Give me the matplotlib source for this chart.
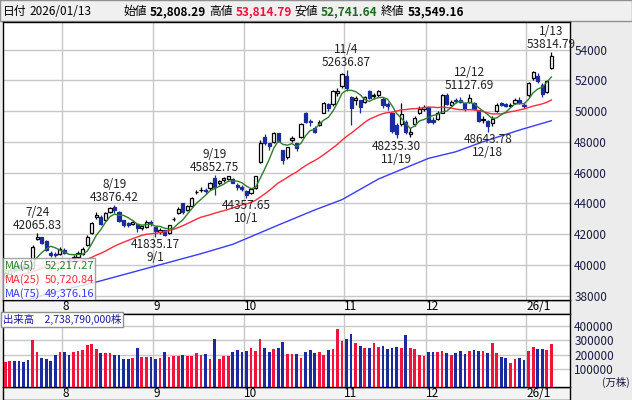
import numpy as np
import pandas as pd
import matplotlib
matplotlib.use("Agg")
import matplotlib.pyplot as plt
from matplotlib.patches import Rectangle

plt.rcParams['font.family'] = ['Noto Sans CJK JP', 'DejaVu Sans']

# daily prices, 2025/07/14 - 2026/01/13
dates = ['7/14', '7/15', '7/16', '7/17', '7/18', '7/22', '7/23', '7/24', '7/25', '7/28',
         '7/29', '7/30', '7/31', '8/1', '8/4', '8/5', '8/6', '8/7', '8/8', '8/12',
         '8/13', '8/14', '8/15', '8/18', '8/19', '8/20', '8/21', '8/22', '8/25', '8/26',
         '8/27', '8/28', '8/29', '9/1', '9/2', '9/3', '9/4', '9/5', '9/8', '9/9',
         '9/10', '9/11', '9/12', '9/16', '9/17', '9/18', '9/19', '9/22', '9/24', '9/25',
         '9/26', '9/29', '9/30', '10/1', '10/2', '10/3', '10/6', '10/7', '10/8', '10/9',
         '10/10', '10/14', '10/15', '10/16', '10/17', '10/20', '10/21', '10/22', '10/23', '10/24',
         '10/27', '10/28', '10/29', '10/30', '10/31', '11/4', '11/5', '11/6', '11/7', '11/10',
         '11/11', '11/12', '11/13', '11/14', '11/17', '11/18', '11/19', '11/20', '11/21', '11/25',
         '11/26', '11/27', '11/28', '12/1', '12/2', '12/3', '12/4', '12/5', '12/8', '12/9',
         '12/10', '12/11', '12/12', '12/15', '12/16', '12/17', '12/18', '12/19', '12/22', '12/23',
         '12/24', '12/25', '12/26', '12/29', '12/30', '1/5', '1/6', '1/7', '1/8', '1/9',
         '1/13']
opens = [39300, 39450, 39800, 39950, 39950, 39900, 39800, 41700, 41800, 41550,
         40800, 40750, 40700, 41000, 40350, 40450, 40500, 40750, 41300, 42100,
         43100, 43150, 42900, 43450, 43800, 43450, 42900, 42750, 42700, 42650,
         42400, 42450, 42800, 42450, 42150, 42250, 42100, 43000, 43400, 44000,
         43550, 43850, 44750, 44850, 44900, 45000, 45650, 45300, 45550, 45600,
         45600, 45200, 45100, 44800, 44700, 45000, 46700, 48300, 47900, 48000,
         48550, 47450, 47000, 48100, 47900, 48300, 49850, 49350, 48900, 49100,
         49900, 50450, 50450, 51150, 51600, 52300, 50900, 50700, 50700, 50600,
         51300, 50950, 51050, 50800, 50450, 49850, 49100, 49150, 49300, 48500,
         49150, 49900, 50150, 50250, 49450, 49500, 49900, 51050, 50400, 50750,
         50750, 50550, 50600, 50500, 50050, 49400, 49350, 49200, 50000, 50500,
         50450, 50300, 50550, 50750, 50400, 51050, 52150, 52300, 51700, 51250,
         52808.29]
highs = [39600, 39800, 39850, 40050, 40100, 39950, 41300, 42065.83, 41850, 41600,
         40900, 40850, 41150, 41100, 40450, 40650, 40900, 41200, 41950, 42800,
         43450, 43250, 43450, 43800, 43876.42, 43500, 42950, 42800, 42950, 42700,
         42600, 42900, 42900, 42500, 42400, 42300, 42600, 43150, 43750, 44050,
         43900, 44450, 44850, 45050, 45000, 45400, 45852.75, 45550, 45700, 45800,
         45650, 45300, 45200, 44900, 45000, 45800, 48150, 48500, 47950, 48650,
         48600, 47500, 47700, 48400, 47950, 49250, 49950, 49500, 49000, 49400,
         50600, 50550, 51400, 51500, 52500, 52636.87, 51000, 51000, 50750, 51000,
         51400, 51150, 51350, 50900, 50600, 49900, 49200, 50550, 49400, 48900,
         49650, 50300, 50400, 50300, 49600, 50000, 51100, 51200, 50700, 50850,
         50900, 50600, 51127.69, 50600, 50100, 49650, 49450, 49650, 50500, 50600,
         50550, 50500, 50850, 50900, 50500, 51900, 52600, 52500, 51800, 52000,
         53814.79]
lows = [39250, 39400, 39500, 39700, 39750, 39500, 39700, 41600, 41350, 40900,
        40500, 40550, 40650, 40700, 39850, 40300, 40450, 40650, 41250, 42050,
        43000, 42600, 42850, 43400, 43400, 42800, 42450, 42500, 42600, 42150,
        42300, 42400, 42550, 41835.17, 42050, 41900, 42000, 42850, 43300, 43300,
        43500, 43800, 44600, 44750, 44600, 44900, 44550, 45200, 45400, 45500,
        45300, 44900, 44800, 44357.65, 44600, 44950, 46600, 47800, 47500, 47950,
        48000, 46550, 46900, 48000, 47400, 48250, 49200, 49000, 48550, 49000,
        49850, 50000, 50350, 51000, 51500, 51300, 49100, 50400, 49900, 50500,
        50800, 50800, 50900, 50200, 50100, 48600, 48235.30, 49000, 48500, 48300,
        49050, 49800, 50000, 49250, 49150, 49400, 49850, 50400, 50300, 50500,
        50500, 50000, 50500, 50050, 49300, 49200, 48643.78, 49000, 49950, 50300,
        50250, 50250, 50450, 50450, 50200, 50900, 52000, 51800, 50900, 51150,
        52741.64]
closes = [39459, 39678, 39663, 39901, 39819, 39774, 41171, 41826, 41456, 40998,
          40674, 40654, 41069, 40799, 40290, 40549, 40794, 41059, 41820, 42718,
          43274, 42649, 43378, 43714, 43546, 42888, 42610, 42633, 42807, 42394,
          42520, 42828, 42718, 42188, 42310, 41938, 42580, 43018, 43643, 43459,
          43837, 44372, 44768, 44902, 44790, 45303, 45045, 45493, 45630, 45754,
          45354, 45043, 44932, 44550, 44936, 45769, 47944, 47950, 47734, 48580,
          48088, 46847, 47672, 48277, 47582, 49185, 49316, 49307, 48641, 49299,
          50512, 50219, 51307, 51325, 52411, 51497, 50212, 50883, 50276, 50911,
          50842, 51063, 51281, 50376, 50323, 48702, 48537, 49823, 48625, 48659,
          49559, 50167, 50253, 49303, 49303, 49864, 51028, 50491, 50581, 50655,
          50602, 50148, 50837, 50168, 49383, 49512, 49001, 49507, 50402, 50412,
          50344, 50407, 50750, 50526, 50339, 51832, 52518, 51961, 51117, 51939,
          53549.16]
# volume, 万株
volumes = [150000, 157000, 157000, 157000, 150000, 164000, 300000, 221000, 178000, 171000,
           157000, 200000, 217000, 221000, 200000, 217000, 228000, 231000, 271000, 278000,
           243000, 209000, 214000, 209000, 200000, 195000, 171000, 171000, 178000, 250000,
           186000, 186000, 186000, 171000, 178000, 221000, 186000, 193000, 193000, 200000,
           193000, 193000, 214000, 200000, 207000, 171000, 307000, 171000, 193000, 193000,
           221000, 236000, 221000, 228000, 250000, 228000, 307000, 250000, 221000, 243000,
           250000, 286000, 207000, 207000, 207000, 178000, 221000, 236000, 210000, 219000,
           198000, 231000, 238000, 381000, 298000, 310000, 348000, 281000, 260000, 245000,
           245000, 283000, 255000, 260000, 238000, 245000, 252000, 245000, 338000, 245000,
           238000, 195000, 188000, 219000, 219000, 219000, 226000, 210000, 195000, 210000,
           226000, 202000, 226000, 233000, 226000, 226000, 210000, 283000, 210000, 181000,
           174000, 138000, 167000, 174000, 160000, 226000, 255000, 238000, 238000, 233000,
           273879]
# closes of the 24 sessions before 7/14 (for the moving averages)
hist_closes = [38211, 38421, 38173, 37834, 38311, 38536, 38885, 38488, 38403, 38354,
               38790, 38942, 39584, 40150, 40487, 39986, 39762, 39785, 39810, 39587,
               39688, 39821, 39646, 39570]
# MA(75) at some sessions
ma75_idx = [0, 10, 20, 30, 43, 50, 60, 68, 74, 82, 93, 99, 105, 113, 120]
ma75_val = [37300, 38200, 38900, 39700, 40740, 41350, 42600, 43580, 44250, 45590,
            46930, 47360, 48010, 48770, 49376.16]

month_labels = ['8', '9', '10', '11', '12', '26/1']
marks = [(7, 'H'), (24, 'H'), (33, 'L'), (46, 'H'), (53, 'L'),
         (75, 'H'), (86, 'L'), (102, 'H'), (106, 'L'), (120, 'H')]
legend_rows = [('MA(5)', '52,217.27'), ('MA(25)', '50,720.84'), ('MA(75)', '49,376.16')]
last_date = '2026/01/13'
total_volume = '2,738,790,000株'

DOWN = '#1b2a9c'
VOL_UP = '#f0143c'
GRID = '#c8c8c8'
TICK = '#1a1a40'
PANEL = '#ececec'
MA_COLS = ['#2f7d2f', '#ff2a3c', '#3a3aff']

o = np.array(opens, float)
h = np.array(highs, float)
l = np.array(lows, float)
c = np.array(closes, float)
v = np.array(volumes, float)
x = np.arange(len(c))
up = c >= o

allc = pd.Series(hist_closes + closes, dtype=float)
ma5 = allc.rolling(5).mean().to_numpy()[len(hist_closes):]
ma25 = allc.rolling(25).mean().to_numpy()[len(hist_closes):]

W, H = 632, 400
fig = plt.figure(figsize=(W / 100, H / 100), dpi=100)

def fx(px):
    return px / W

def fy(py):
    return 1 - py / H

# backgrounds
fig.patches.append(Rectangle((0, 0), 1, 1, transform=fig.transFigure,
                             facecolor=PANEL, edgecolor='none', zorder=-5))
fig.patches.append(Rectangle((0, fy(21)), 1, 21 / H, transform=fig.transFigure,
                             facecolor='#f0f0f0', edgecolor='#909090', lw=1, zorder=-4))
for top, bot in [(300, 314), (387, 400)]:
    fig.patches.append(Rectangle((fx(3), fy(bot)), fx(567), (bot - top) / H,
                                 transform=fig.transFigure, facecolor='#f4f4f4',
                                 edgecolor='black', lw=1, zorder=-3))

ax = fig.add_axes([fx(3), fy(300), fx(567), 278 / H])
axv = fig.add_axes([fx(3), fy(387), fx(567), 73 / H])

month_starts = [i for i in range(1, len(dates))
                if dates[i].split('/')[0] != dates[i - 1].split('/')[0]]
bounds = [i - 0.5 for i in month_starts]

for a in (ax, axv):
    a.set_facecolor('white')
    a.set_xlim(-0.5, 124.1)
    a.set_xticks(bounds)
    a.set_xticklabels([])
    a.tick_params(axis='x', length=0)
    a.yaxis.tick_right()
    a.tick_params(axis='y', length=0, pad=3, labelsize=8.5, labelcolor=TICK)
    a.grid(True, color=GRID, lw=1)
    a.set_axisbelow(True)
    for s in a.spines.values():
        s.set_color('black')
        s.set_linewidth(1)

# candles
edge = np.where(up, 'black', DOWN)
face = np.where(up, 'white', DOWN)
ax.vlines(x, l, h, colors=edge, lw=0.9, zorder=2)
body = np.maximum(np.abs(c - o), 25)
ax.bar(x, body, bottom=np.minimum(o, c), width=0.7, color=face,
       edgecolor=edge, lw=0.9, zorder=3)

ax.plot(ma75_idx, ma75_val, color=MA_COLS[2], lw=1, zorder=4)
ax.plot(x, ma25, color=MA_COLS[1], lw=1, zorder=4)
ax.plot(x, ma5, color=MA_COLS[0], lw=1, zorder=4)

ax.set_ylim(37733, 55786)
ax.set_yticks(range(38000, 54001, 2000))

# high / low labels
for i, kind in marks:
    if kind == 'H':
        txt, y0, off, va = f'{dates[i]}\n{h[i]:.2f}', h[i], 1, 'bottom'
    else:
        txt, y0, off, va = f'{l[i]:.2f}\n{dates[i]}', l[i], -1, 'top'
    t = ax.annotate(txt, (i, y0), xytext=(0, off), textcoords='offset points',
                    ha='center', va=va, fontsize=8.5, linespacing=1.0,
                    color='#222222', zorder=6, annotation_clip=False)
    t.set_clip_on(True)

# MA legend box
ax.add_patch(Rectangle((0, 0), 92 / 567, 42 / 278, transform=ax.transAxes,
                       facecolor='white', alpha=0.82, edgecolor='#909090', lw=1, zorder=7))
for k, (name, val) in enumerate(legend_rows):
    yy = (34 - 14 * k) / 278
    ax.text(2 / 567, yy, name, transform=ax.transAxes, ha='left', va='center',
            fontsize=8, color=MA_COLS[k], zorder=8)
    ax.text(91 / 567, yy, val, transform=ax.transAxes, ha='right', va='center',
            fontsize=8, color=MA_COLS[k], zorder=8)

# volume
vol_floor = -28000
axv.bar(x, v - vol_floor, bottom=vol_floor, width=0.6,
        color=np.where(up, VOL_UP, DOWN), zorder=3)
axv.set_ylim(vol_floor, 486000)
axv.set_yticks([100000, 200000, 300000, 400000])
axv.text(1.0 + 32 / 567, -1 / 73, '(万株)', transform=axv.transAxes, ha='left',
         va='bottom', fontsize=7.5, color=TICK, clip_on=False)
axv.text(0.0, 1.0, '出来高　' + total_volume, transform=axv.transAxes, ha='left', va='top',
         fontsize=7.5, color='#1a1aa0', zorder=8,
         bbox=dict(boxstyle='square,pad=0.15', facecolor='white', edgecolor='#909090', lw=1))

# month labels in the strips
for b, lab in zip(bounds, month_labels):
    px = 3 + (b + 0.5) * 567 / 124.6
    for py in (307, 393.5):
        fig.text(fx(px), fy(py), lab, ha='left', va='center', fontsize=8.5, color='black')

# header, laid out left to right
fmt = lambda val: f'{val:,.2f}'
groups = [
    (3, [('日付', 'black', 'normal'), (last_date, 'black', 'normal')]),
    (123, [('始値', 'black', 'normal'), (fmt(o[-1]), 'black', 'bold'),
           ('高値', 'black', 'normal'), (fmt(h[-1]), '#f0143c', 'bold'),
           ('安値', 'black', 'normal'), (fmt(l[-1]), '#1e6b1e', 'bold'),
           ('終値', 'black', 'normal'), (fmt(c[-1]), 'black', 'bold')]),
]
renderer = fig.canvas.get_renderer()
for start, items in groups:
    px = start
    for t, col, wt in items:
        txt = fig.text(fx(px), fy(11.5), t, ha='left', va='center', fontsize=8.5,
                       color=col, fontweight=wt)
        px += txt.get_window_extent(renderer).width + 3

fig.savefig('out.png', dpi=100)
